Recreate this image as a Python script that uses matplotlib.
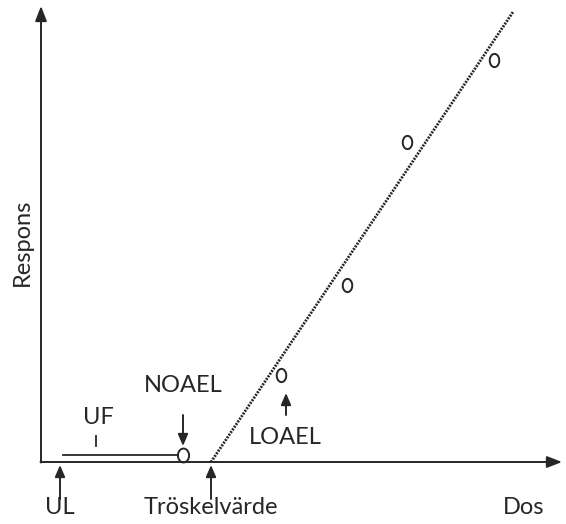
import numpy as np
import matplotlib.pyplot as plt
from matplotlib.path import Path

# dose / response in arbitrary units
threshold = 17.0
line_dose = [17.0, 47.2]
line_resp = [0.0, 45.0]
obs_dose = [24.0, 30.6, 36.6, 45.3]
obs_resp = [8.7, 17.7, 32.0, 40.2]
noael_dose = 14.2
noael_resp = 0.7
ul_dose = 1.9
uf_start = 2.2
uf_end = 13.7
uf_level = 0.7

ink = "#262626"
font = "Lato"
fs = 17

# ellipse marker, taller than wide like the letter o
t = np.linspace(0, 2 * np.pi, 60)
oval = Path(np.column_stack([0.72 * np.cos(t), np.sin(t)]))
noael_oval = Path(np.column_stack([0.8 * np.cos(t), np.sin(t)]))

fig = plt.figure(figsize=(5.66, 5.24), dpi=100)
ax = fig.add_axes([0, 0, 1, 1])
ax.set_xlim(-4.1, 52.5)
ax.set_ylim(-6.2, 46.2)
ax.axis("off")

# axes with arrow heads
ax.annotate("", xy=(0, 45.6), xytext=(0, -0.05),
            arrowprops=dict(arrowstyle="-|>,head_length=0.9,head_width=0.35",
                            color=ink, lw=1.4, shrinkA=0, shrinkB=0))
ax.annotate("", xy=(52.1, 0), xytext=(-0.05, 0),
            arrowprops=dict(arrowstyle="-|>,head_length=0.9,head_width=0.35",
                            color=ink, lw=1.4, shrinkA=0, shrinkB=0))

# dose-response line
ax.plot(line_dose, line_resp, color=ink, lw=2.0, linestyle=(0, (0.7, 0.45)))

# observations
ax.plot(obs_dose, obs_resp, linestyle="none", marker=oval, markersize=9.5,
        markerfacecolor="none", markeredgecolor=ink, markeredgewidth=1.4)
ax.plot([noael_dose], [noael_resp], linestyle="none", marker=noael_oval, markersize=10,
        markerfacecolor="none", markeredgecolor=ink, markeredgewidth=1.4)

# UF line
ax.plot([uf_start, uf_end], [uf_level, uf_level], color=ink, lw=1.3)
ax.plot([5.5, 5.5], [1.6, 2.6], color=ink, lw=1.3)
ax.text(5.7, 4.5, "UF", ha="center", va="center", fontsize=fs, family=font, color=ink)

arrow = dict(arrowstyle="-|>,head_length=0.7,head_width=0.3", color=ink, lw=1.4,
             shrinkA=0, shrinkB=0)

# NOAEL
ax.annotate("", xy=(noael_dose, 1.6), xytext=(noael_dose, 4.7), arrowprops=arrow)
ax.text(noael_dose, 7.6, "NOAEL", ha="center", va="center", fontsize=fs,
        family=font, color=ink)

# LOAEL
ax.annotate("", xy=(obs_dose[0] + 0.5, 6.9), xytext=(obs_dose[0] + 0.5, 4.7),
            arrowprops=arrow)
ax.text(24.4, 2.45, "LOAEL", ha="center", va="center", fontsize=fs,
        family=font, color=ink)

# UL and threshold
ax.annotate("", xy=(ul_dose, -0.3), xytext=(ul_dose, -3.7), arrowprops=arrow)
ax.annotate("", xy=(threshold, -0.3), xytext=(threshold, -3.7), arrowprops=arrow)
ax.text(ul_dose, -4.6, "UL", ha="center", va="center", fontsize=fs, family=font, color=ink)
ax.text(threshold, -4.6, "Tröskelvärde", ha="center", va="center", fontsize=fs,
        family=font, color=ink)
ax.text(48.3, -4.6, "Dos", ha="center", va="center", fontsize=fs, family=font, color=ink)
ax.text(-1.9, 22.0, "Respons", ha="center", va="center", rotation=90, fontsize=fs,
        family=font, color=ink)

fig.savefig("out.png", dpi=100)
